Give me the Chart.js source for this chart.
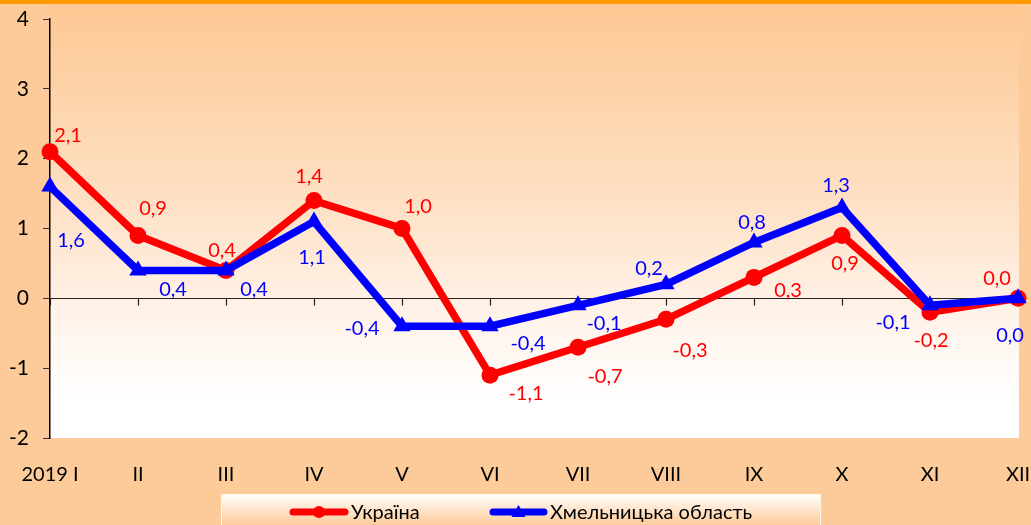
<!DOCTYPE html>
<html>
<head>
<meta charset="utf-8">
<script src="https://cdn.jsdelivr.net/npm/chart.js@4.4.1/dist/chart.umd.min.js"></script>
<style>
  html, body { margin: 0; padding: 0; background: #FDCB99; }
  #wrap { width: 1031px; height: 525px; position: relative; }
</style>
</head>
<body>
<div id="wrap"><canvas id="cpiChart"></canvas></div>
<script>
// Data
const months = ['2019 I', 'II', 'III', 'IV', 'V', 'VI', 'VII', 'VIII', 'IX', 'X', 'XI', 'XII'];
const ukraine = [2.1, 0.9, 0.4, 1.4, 1.0, -1.1, -0.7, -0.3, 0.3, 0.9, -0.2, 0.0];
const khmelnytska = [1.6, 0.4, 0.4, 1.1, -0.4, -0.4, -0.1, 0.2, 0.8, 1.3, -0.1, 0.0];
const yTicks = [-2, -1, 0, 1, 2, 3, 4];

const FONT = 'Lato, "Open Sans", "Noto Sans", sans-serif';

// where each value label sits relative to its point
const labelOffsets = [
    [[18, -16], [15, -27], [-4, -20], [-5, -24], [16, -22], [36, 18], [27, 29], [24, 31], [34, 13], [3, 28], [1, 28], [-21, -20]],
    [[21, 54], [35, 19], [28, 19], [-2, 36], [-40, 2], [38, 17], [26, 18], [-17, -16], [-2, -20], [-6, -22], [-37, 17], [-8, 37]]
];

// Backgrounds, zero line and legend box
const decorPlugin = {
    id: 'decor',
    beforeDraw(chart) {
        const { ctx, chartArea, width } = chart;
        ctx.save();
        ctx.fillStyle = '#FDCB99';
        ctx.fillRect(0, 0, width, chart.height);
        const g = ctx.createLinearGradient(0, 4, 0, chartArea.bottom);
        g.addColorStop(0, '#FDC893');
        g.addColorStop(0.45, '#FEE0C4');
        g.addColorStop(0.7, '#FFF2E8');
        g.addColorStop(0.92, '#FFFFFF');
        ctx.fillStyle = g;
        ctx.fillRect(chartArea.left, 4, chartArea.right - chartArea.left + 1, chartArea.bottom - 4);
        ctx.fillStyle = '#FF9A00';
        ctx.fillRect(0, 0, width, 4);
        ctx.restore();
    },
    beforeDatasetsDraw(chart) {
        const { ctx, chartArea, scales } = chart;
        const y0 = Math.round(scales.y.getPixelForValue(0)) + 0.5;
        ctx.save();
        ctx.strokeStyle = '#222';
        ctx.lineWidth = 1.2;
        ctx.beginPath();
        ctx.moveTo(chartArea.left, y0);
        ctx.lineTo(chartArea.right, y0);
        months.forEach((m, i) => {
            const x = Math.round(scales.x.getPixelForValue(i)) + 0.5;
            ctx.moveTo(x, y0);
            ctx.lineTo(x, y0 + 7);
        });
        ctx.stroke();
        ctx.restore();
    },
    afterDraw(chart) {
        const { ctx } = chart;
        ctx.save();
        // legend box
        const bx = 221, by = 494, bw = 599, bh = 40;
        const g = ctx.createLinearGradient(0, by, 0, by + 31);
        g.addColorStop(0, '#FFFFFF');
        g.addColorStop(1, '#FDCB99');
        ctx.fillStyle = g;
        ctx.fillRect(bx, by, bw, bh);
        ctx.strokeStyle = '#FFF6EE';
        ctx.lineWidth = 1;
        ctx.strokeRect(bx + 0.5, by + 0.5, bw, bh);

        const items = [
            { x1: 290, x2: 348, color: '#FF0000', style: 'circle', text: chart.data.datasets[0].label },
            { x1: 490, x2: 547, color: '#0000FF', style: 'triangle', text: chart.data.datasets[1].label }
        ];
        const ly = 512;
        items.forEach(it => {
            ctx.strokeStyle = it.color;
            ctx.fillStyle = it.color;
            ctx.lineWidth = 7;
            ctx.lineCap = 'round';
            ctx.beginPath();
            ctx.moveTo(it.x1 + 3, ly);
            ctx.lineTo(it.x2 - 3, ly);
            ctx.stroke();
            const cx = (it.x1 + it.x2) / 2;
            ctx.beginPath();
            if (it.style === 'circle') {
                ctx.arc(cx, ly, 6, 0, Math.PI * 2);
            } else {
                ctx.moveTo(cx, ly - 7);
                ctx.lineTo(cx + 7, ly + 5);
                ctx.lineTo(cx - 7, ly + 5);
                ctx.closePath();
            }
            ctx.fill();
            ctx.fillStyle = '#000';
            ctx.font = '20px ' + FONT;
            ctx.textAlign = 'left';
            ctx.textBaseline = 'middle';
            ctx.fillText(it.text, it.x2 + 3, ly + 1);
        });
        ctx.restore();
    }
};

// Value labels next to the points
const valueLabels = {
    id: 'valueLabels',
    afterDatasetsDraw(chart) {
        const { ctx } = chart;
        ctx.save();
        ctx.font = '20px ' + FONT;
        ctx.textAlign = 'center';
        ctx.textBaseline = 'middle';
        chart.data.datasets.forEach((ds, di) => {
            const meta = chart.getDatasetMeta(di);
            ctx.fillStyle = ds.borderColor;
            meta.data.forEach((pt, i) => {
                const off = labelOffsets[di][i];
                const txt = ds.data[i].toFixed(1).replace('.', ',');
                ctx.fillText(txt, pt.x + off[0], pt.y + off[1]);
            });
        });
        ctx.restore();
    }
};

const ctx = document.getElementById('cpiChart').getContext('2d');
const cpiChart = new Chart(ctx, {
    type: 'line',
    data: {
        labels: months,
        datasets: [
            {
                label: 'Україна',
                data: ukraine,
                borderColor: '#FF0000',
                backgroundColor: '#FF0000',
                pointStyle: 'circle',
                pointRadius: 8.5,
                order: 2
            },
            {
                label: 'Хмельницька область',
                data: khmelnytska,
                borderColor: '#0000FF',
                backgroundColor: '#0000FF',
                pointStyle: 'triangle',
                pointRadius: 10,
                order: 1
            }
        ]
    },
    options: {
        responsive: true,
        maintainAspectRatio: false,
        animation: false,
        clip: false,
        elements: {
            line: { borderWidth: 7.5, tension: 0, borderJoinStyle: 'miter' },
            point: { borderWidth: 0, hoverRadius: 8 }
        },
        layout: { padding: { top: 19, right: 13, left: 0, bottom: 0 } },
        plugins: {
            legend: { display: false },
            tooltip: { enabled: false }
        },
        scales: {
            x: {
                offset: false,
                grid: { display: false },
                border: { display: false },
                ticks: {
                    color: '#000',
                    font: { family: FONT, size: 20 },
                    padding: 17,
                    maxRotation: 0,
                    autoSkip: false
                },
                afterFit(scale) {
                    scale.height = 87;
                    scale.paddingLeft = 0;
                    scale.paddingRight = 0;
                }
            },
            y: {
                min: yTicks[0],
                max: yTicks[yTicks.length - 1],
                afterBuildTicks(scale) {
                    scale.ticks = yTicks.map(v => ({ value: v }));
                },
                grid: {
                    drawOnChartArea: false,
                    drawTicks: true,
                    tickLength: 7,
                    color: '#333'
                },
                border: { display: true, color: '#000', width: 1.5 },
                ticks: {
                    color: '#000',
                    font: { family: FONT, size: 21 },
                    padding: 14
                },
                afterFit(scale) {
                    scale.width = 50;
                    scale.paddingTop = 0;
                    scale.paddingBottom = 0;
                }
            }
        }
    },
    plugins: [decorPlugin, valueLabels]
});
</script>
</body>
</html>
